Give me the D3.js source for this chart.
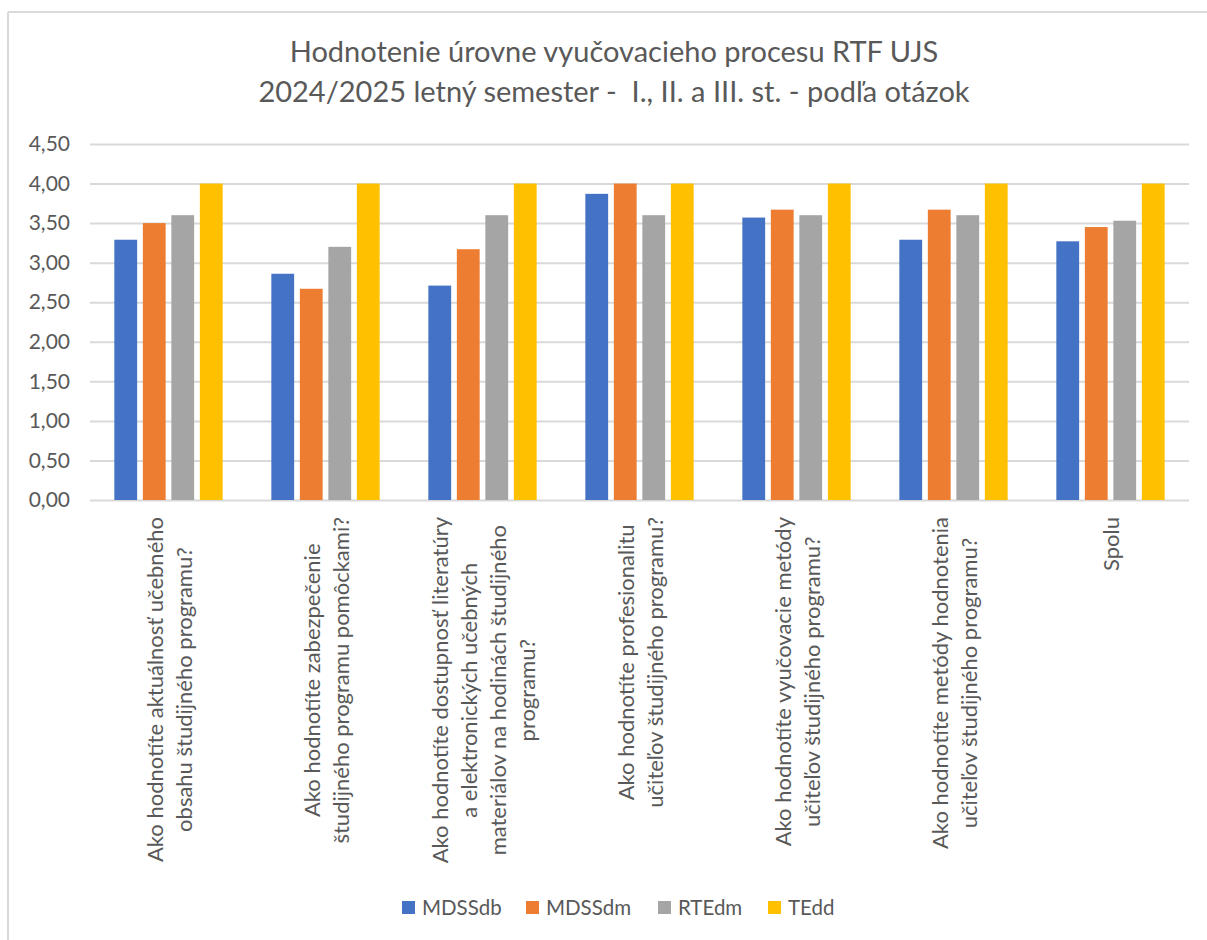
<!DOCTYPE html>
<html>
<head>
<meta charset="utf-8">
<script src="https://cdn.jsdelivr.net/npm/d3@7"></script>
<style>
  html, body { margin: 0; padding: 0; background: #fff; }
  svg { display: block; font-family: Lato, "Open Sans", sans-serif; }
</style>
</head>
<body>
<svg id="chart" width="1207" height="940"></svg>
<script>
// Question labels, already broken into the lines they are drawn on
const categories = [
  ["Ako hodnotíte aktuálnosť učebného", "obsahu študijného programu?"],
  ["Ako hodnotíte zabezpečenie", "študijného programu pomôckami?"],
  ["Ako hodnotíte dostupnosť literatúry", "a elektronických učebných", "materiálov na hodinách študijného", "programu?"],
  ["Ako hodnotíte profesionalitu", "učiteľov študijného programu?"],
  ["Ako hodnotíte vyučovacie metódy", "učiteľov študijného programu?"],
  ["Ako hodnotíte metódy hodnotenia", "učiteľov študijného programu?"],
  ["Spolu"]
];

const seriesNames = ["MDSSdb", "MDSSdm", "RTEdm", "TEdd"];
const seriesColors = ["#4472C4", "#ED7D31", "#A5A5A5", "#FFC000"];

const MDSSdb = [3.29, 2.86, 2.71, 3.87, 3.57, 3.29, 3.27];
const MDSSdm = [3.50, 2.67, 3.17, 4.00, 3.67, 3.67, 3.45];
const RTEdm  = [3.60, 3.20, 3.60, 3.60, 3.60, 3.60, 3.53];
const TEdd   = [4.00, 4.00, 4.00, 4.00, 4.00, 4.00, 4.00];

const yTicks = [0, 0.5, 1, 1.5, 2, 2.5, 3, 3.5, 4, 4.5];

const titleLines = [
  "Hodnotenie úrovne vyučovacieho procesu RTF UJS",
  "2024/2025 letný semester -  I., II. a III. st. - podľa otázok"
];

const seriesValues = [MDSSdb, MDSSdm, RTEdm, TEdd];

const svg = d3.select("#chart");
const textColor = "#595959";
const gridColor = "#D9D9D9";

// chart frame (top and left edges)
svg.append("line").attr("x1", 8).attr("x2", 1207).attr("y1", 12).attr("y2", 12)
  .attr("stroke", gridColor).attr("stroke-width", 2);
svg.append("line").attr("x1", 8).attr("x2", 8).attr("y1", 12).attr("y2", 940)
  .attr("stroke", gridColor).attr("stroke-width", 2);

// title
svg.append("g").selectAll("text").data(titleLines).join("text")
  .attr("x", 614)
  .attr("y", (d, i) => 62 + i * 40)
  .attr("text-anchor", "middle")
  .attr("fill", textColor)
  .attr("font-size", 29)
  .style("white-space", "pre")
  .text(d => d);

const plot = { left: 90, right: 1189, top: 144, bottom: 500 };

const y = d3.scaleLinear().domain([0, 4.5]).range([plot.bottom, plot.top]);
const x0 = d3.scaleBand().domain(d3.range(categories.length))
  .range([plot.left, plot.right]).paddingInner(0).paddingOuter(0);
const groupW = x0.bandwidth() * 0.69;
const x1 = d3.scaleBand().domain(seriesNames).range([0, groupW]).paddingInner(0.2);
const groupOffset = (x0.bandwidth() - groupW) / 2;

// horizontal gridlines and value labels
const fmt = v => d3.format(".2f")(v).replace(".", ",");
const yAxis = d3.axisLeft(y).tickValues(yTicks).tickFormat(fmt)
  .tickSize(-(plot.right - plot.left)).tickPadding(20);
const yg = svg.append("g").attr("transform", `translate(${plot.left},0)`).call(yAxis);
yg.select(".domain").remove();
yg.selectAll(".tick line").attr("stroke", gridColor).attr("stroke-width", 2);
yg.selectAll(".tick text").attr("fill", textColor).attr("font-size", 21)
  .attr("font-family", "Lato, 'Open Sans', sans-serif");

// bars
const groups = svg.append("g").selectAll("g").data(categories).join("g")
  .attr("transform", (d, i) => `translate(${x0(i) + groupOffset},0)`);
groups.selectAll("rect")
  .data((d, i) => seriesNames.map((s, k) => ({ s, k, v: seriesValues[k][i] })))
  .join("rect")
  .attr("x", d => x1(d.s))
  .attr("width", x1.bandwidth())
  .attr("y", d => y(d.v))
  .attr("height", d => y(0) - y(d.v))
  .attr("fill", d => seriesColors[d.k]);

// category labels, rotated and centred line by line
const lineGap = 29;
const labelTop = 517;
categories.forEach((lines, i) => {
  const cx = x0(i) + x0.bandwidth() / 2;
  const g = svg.append("g");
  const texts = g.selectAll("text").data(lines).join("text")
    .attr("fill", textColor).attr("font-size", 22)
    .attr("text-anchor", "middle")
    .attr("dominant-baseline", "central")
    .text(d => d);
  let maxLen = 0;
  texts.each(function () { maxLen = Math.max(maxLen, this.getComputedTextLength()); });
  const cy = labelTop + maxLen / 2;
  texts.attr("transform", (d, j) => {
    const lx = cx + (j - (lines.length - 1) / 2) * lineGap;
    return `translate(${lx},${cy}) rotate(-90)`;
  });
});

// legend
const legendX = [402, 526, 658, 768];
const legend = svg.append("g").selectAll("g").data(seriesNames).join("g")
  .attr("transform", (d, i) => `translate(${legendX[i]},901)`);
legend.append("rect").attr("width", 13).attr("height", 13)
  .attr("fill", (d, i) => seriesColors[i]);
legend.append("text").attr("x", 20).attr("y", 14)
  .attr("fill", textColor).attr("font-size", 20.5).text(d => d);
</script>
</body>
</html>
